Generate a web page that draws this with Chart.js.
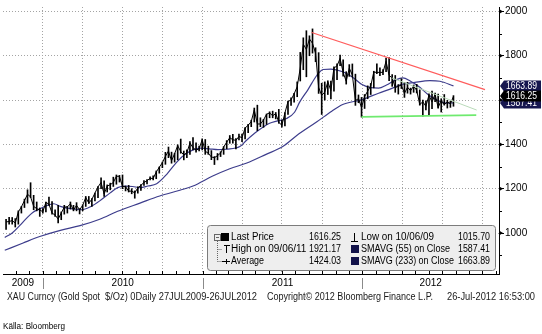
<!DOCTYPE html>
<html>
<head>
<meta charset="utf-8">
<title>XAU Curncy</title>
<script src="https://cdn.jsdelivr.net/npm/chart.js@4.4.1/dist/chart.umd.min.js"></script>
<style>
  html, body { margin: 0; padding: 0; background: #fff; }
  canvas { display: block; }
</style>
</head>
<body>
<canvas id="chart" width="542" height="334"></canvas>
<script>
// days are counted from 1 Jan 2010 (a Friday), one bar per trading week
const firstWeekDay = -84;

const weeklyHigh = [
  1062, 1071, 1070, 1065, 1100, 1120, 1153, 1195, 1227, 1170, 1140, 1113, 1110,
  1140, 1162, 1142, 1105, 1125, 1095, 1125, 1120, 1140, 1125, 1137, 1110, 1127, 1165, 1165, 1155, 1180, 1210, 1249, 1235,
  1217, 1225, 1252, 1262, 1260, 1262, 1212, 1215, 1200, 1190, 1208, 1218, 1237, 1241, 1253, 1258, 1280, 1298, 1320, 1364,
  1388, 1365, 1360, 1398, 1424, 1370, 1375, 1413, 1431, 1407, 1392, 1425,
  1422, 1392, 1372, 1345, 1359, 1367, 1390, 1417, 1440, 1445, 1426, 1447, 1447, 1476, 1490, 1509, 1564, 1577, 1520, 1513,
  1537, 1547, 1550, 1544, 1558, 1510, 1543, 1595, 1610, 1630, 1682, 1815, 1881, 1913, 1890, 1921.17, 1836, 1814, 1676, 1682,
  1687, 1686, 1750, 1764, 1803, 1782, 1728, 1760, 1763, 1717, 1623, 1612,
  1625, 1664, 1675, 1730, 1764, 1745, 1738, 1790, 1792, 1715, 1711, 1670, 1696, 1680, 1680, 1654, 1668, 1671, 1646, 1600,
  1596, 1628, 1640, 1632, 1627, 1606, 1625, 1599, 1595, 1620
];
const weeklyLow = [
  1015.70, 1040, 1040, 1027, 1040, 1090, 1115, 1135, 1160, 1105, 1100, 1075, 1090,
  1095, 1125, 1085, 1075, 1045, 1060, 1085, 1090, 1108, 1100, 1100, 1086, 1100, 1120, 1133, 1120, 1145, 1160, 1200, 1165,
  1185, 1195, 1210, 1220, 1230, 1200, 1190, 1185, 1177, 1157, 1180, 1192, 1215, 1222, 1240, 1240, 1245, 1270, 1295, 1310,
  1340, 1315, 1320, 1330, 1360, 1330, 1340, 1355, 1375, 1365, 1370, 1375,
  1355, 1355, 1331, 1309, 1330, 1345, 1355, 1380, 1405, 1405, 1380, 1420, 1412, 1425, 1453, 1480, 1501, 1462, 1480, 1477,
  1490, 1520, 1520, 1515, 1495, 1478, 1483, 1535, 1576, 1590, 1615, 1686, 1737, 1705, 1800, 1812, 1773, 1630, 1535, 1600,
  1625, 1605, 1640, 1692, 1755, 1708, 1672, 1707, 1705, 1576, 1588, 1523,
  1562, 1606, 1625, 1655, 1719, 1710, 1715, 1728, 1688, 1662, 1635, 1627, 1652, 1612, 1631, 1627, 1635, 1632, 1577, 1527,
  1555, 1532, 1561, 1593, 1563, 1546, 1577, 1564, 1567, 1572
];
const weeklyClose = [
  1050, 1052, 1056, 1045, 1095, 1118, 1146, 1175, 1163, 1120, 1110, 1104, 1096,
  1138, 1130, 1090, 1081, 1063, 1090, 1117, 1118, 1132, 1104, 1125, 1105, 1125, 1160, 1135, 1152, 1180, 1208, 1228, 1176,
  1212, 1218, 1228, 1256, 1256, 1210, 1209, 1189, 1189, 1181, 1204, 1215, 1228, 1236, 1247, 1246, 1275, 1297, 1317, 1346,
  1370, 1326, 1358, 1394, 1368, 1352, 1362, 1406, 1385, 1374, 1380, 1421,
  1369, 1360, 1343, 1340, 1349, 1361, 1388, 1410, 1430, 1421, 1418, 1436, 1430, 1474, 1486, 1503, 1556, 1492, 1492, 1510,
  1536, 1542, 1529, 1539, 1500, 1486, 1542, 1593, 1601, 1628, 1660, 1744, 1852, 1828, 1876, 1856, 1811, 1657, 1621, 1636,
  1682, 1643, 1745, 1754, 1788, 1724, 1685, 1744, 1713, 1598, 1606, 1566,
  1616, 1640, 1664, 1726, 1725, 1725, 1725, 1775, 1711, 1700, 1656, 1662, 1668, 1630, 1658, 1642, 1663, 1644, 1580, 1592,
  1572, 1622, 1591, 1627, 1566, 1599, 1579, 1592, 1583, 1616.25
];

const sma55Days = [-87, -70, -53, -38, -23, -7, 10, 25, 40, 55, 75, 89, 110, 130, 153, 171, 187, 205, 222, 240,
  260, 283, 306, 325, 343, 359, 380, 400, 420, 450, 466, 489, 518, 534, 557, 575, 587, 605, 626, 640,
  658, 685, 710, 729, 750, 767, 785, 805, 822, 840, 861, 880, 900, 923, 938];
const sma55 = [980, 1000, 1033, 1065, 1093, 1109, 1125, 1132, 1120, 1112, 1108, 1105, 1120, 1145, 1180, 1205, 1212, 1210, 1205, 1212,
  1222, 1265, 1320, 1355, 1375, 1383, 1380, 1376, 1378, 1390, 1420, 1458, 1495, 1505, 1517, 1545, 1592, 1645, 1712, 1738,
  1740, 1728, 1700, 1670, 1656, 1654, 1668, 1690, 1700, 1685, 1658, 1625, 1600, 1586, 1587.41];

const sma233Days = [-87, -45, -7, 40, 85, 130, 171, 222, 267, 313, 343, 388, 427, 466, 510, 548, 580, 626, 660, 685,
  729, 767, 800, 815, 850, 884, 907, 938];
const sma233 = [922, 955, 984, 1012, 1033, 1062, 1098, 1135, 1167, 1193, 1212, 1257, 1290, 1316, 1355, 1390, 1440, 1502, 1550, 1580,
  1602, 1631, 1655, 1668, 1680, 1688, 1685, 1663.89];

// hand-drawn trend lines
const resistanceDays = [614, 1010];
const resistance = [1905, 1647];
const supportDays = [728, 990];
const support = [1524, 1532];
const channelDays = [797, 991];
const channel = [1700, 1555];

const quarterDays = [0, 90, 181, 273, 365, 455, 546, 638, 730, 821, 912, 1004];
const monthDays = [-92, -61, -31, 0, 31, 59, 90, 120, 151, 181, 212, 243, 273, 304, 334,
  365, 396, 424, 455, 485, 516, 546, 577, 608, 638, 669, 699,
  730, 761, 790, 821, 851, 882, 912, 943, 974, 1004, 1035];
const yearLabels = ['2009', '2010', '2011', '2012'];
const yearStartDays = [-365, 0, 365, 730, 1096];
const priceTicks = [1000, 1200, 1400, 1600, 1800, 2000];
const minorPriceTicks = [900, 1100, 1300, 1500, 1700, 1900];

const highDate = '09/06/11';
const lowDate = '10/06/09';
const averagePrice = 1424.03;

const FONT = '"Liberation Sans", Arial, sans-serif';

const weekDays = weeklyClose.map((_, i) => firstWeekDay + 7 * i);
const toPoints = (days, vals) => days.map((d, i) => ({ x: d, y: vals[i] }));

const lastClose = weeklyClose[weeklyClose.length - 1];
const highest = Math.max(...weeklyHigh);
const lowest = Math.min(...weeklyLow);
const sma55Last = sma55[sma55.length - 1];
const sma233Last = sma233[sma233.length - 1];

const overlay = {
  id: 'overlay',
  afterDraw(chart) {
    const { ctx, chartArea: area, scales: { x, y } } = chart;
    ctx.save();
    ctx.strokeStyle = '#000';
    ctx.fillStyle = '#000';
    ctx.lineWidth = 1;

    // month ticks along the time axis
    monthDays.forEach(d => {
      if (d < x.min || d > x.max) return;
      const px = Math.round(x.getPixelForValue(d)) + 0.5;
      ctx.beginPath();
      ctx.moveTo(px, area.bottom);
      ctx.lineTo(px, area.bottom - 3);
      ctx.stroke();
    });

    // minor price ticks, arrow heads on labelled ones
    minorPriceTicks.forEach(v => {
      const py = Math.round(y.getPixelForValue(v)) + 0.5;
      ctx.beginPath();
      ctx.moveTo(area.right, py);
      ctx.lineTo(area.right + 3, py);
      ctx.stroke();
    });
    priceTicks.forEach(v => {
      const py = y.getPixelForValue(v);
      ctx.beginPath();
      ctx.moveTo(area.right, py - 2.5);
      ctx.lineTo(area.right + 4, py);
      ctx.lineTo(area.right, py + 2.5);
      ctx.closePath();
      ctx.fill();
    });

    // year labels and separators
    ctx.font = '10px ' + FONT;
    ctx.textAlign = 'center';
    ctx.textBaseline = 'middle';
    yearLabels.forEach((label, i) => {
      const from = Math.max(yearStartDays[i], x.min);
      const to = Math.min(yearStartDays[i + 1], x.max);
      ctx.fillText(label, x.getPixelForValue((from + to) / 2), 283);
    });
    ctx.strokeStyle = '#8a8a8a';
    yearStartDays.forEach(d => {
      if (d <= x.min || d >= x.max) return;
      const px = Math.round(x.getPixelForValue(d)) + 0.5;
      ctx.beginPath();
      ctx.moveTo(px, 278);
      ctx.lineTo(px, 289);
      ctx.stroke();
    });

    // info box
    const bx = 207.5, by = 225.5, bw = 288, bh = 45;
    ctx.beginPath();
    ctx.roundRect(bx, by, bw, bh, 3);
    ctx.fillStyle = '#eeeeee';
    ctx.fill();
    ctx.strokeStyle = '#7c7c7c';
    ctx.stroke();

    const rows = [237.5, 249.5, 261];
    // tree connector
    ctx.strokeStyle = '#666';
    ctx.setLineDash([1, 1]);
    ctx.beginPath();
    ctx.moveTo(217.5, 241); ctx.lineTo(217.5, 261.5);
    ctx.moveTo(217.5, 249.5); ctx.lineTo(222, 249.5);
    ctx.moveTo(217.5, 261.5); ctx.lineTo(222, 261.5);
    ctx.stroke();
    ctx.setLineDash([]);
    ctx.strokeRect(214.5, 234.5, 6, 6);
    ctx.beginPath(); ctx.moveTo(216, 237.5); ctx.lineTo(219, 237.5); ctx.stroke();

    ctx.fillStyle = '#000';
    ctx.fillRect(221, 233, 8, 8);
    ctx.strokeStyle = '#000';
    ctx.beginPath();
    // high marker
    ctx.moveTo(224, 245.5); ctx.lineTo(230, 245.5);
    ctx.moveTo(226.5, 245.5); ctx.lineTo(226.5, 253);
    // average marker
    ctx.moveTo(222, 261.5); ctx.lineTo(230, 261.5);
    ctx.moveTo(226.5, 259); ctx.lineTo(226.5, 264);
    // low marker
    ctx.moveTo(354.5, 233); ctx.lineTo(354.5, 241);
    ctx.moveTo(351, 241.5); ctx.lineTo(358, 241.5);
    ctx.stroke();
    ctx.fillStyle = '#12124a';
    ctx.fillRect(351, 245, 8, 8);
    ctx.fillRect(351, 257, 8, 8);

    ctx.fillStyle = '#000';
    ctx.font = '10px ' + FONT;
    ctx.textAlign = 'left';
    ctx.fillText('Last Price', 231, rows[0], 43);
    ctx.fillText('High on ' + highDate, 231, rows[1], 76);
    ctx.fillText('Average', 231, rows[2], 33);
    ctx.fillText(lastClose.toFixed(2), 309, rows[0], 32);
    ctx.fillText(highest.toFixed(2), 309, rows[1], 32);
    ctx.fillText(averagePrice.toFixed(2), 309, rows[2], 32);
    ctx.fillText('Low on ' + lowDate, 361, rows[0], 73);
    ctx.fillText('SMAVG (55) on Close', 361, rows[1], 89);
    ctx.fillText('SMAVG (233) on Close', 361, rows[2], 93);
    ctx.textAlign = 'right';
    ctx.fillText(lowest.toFixed(2), 490, rows[0], 32);
    ctx.fillText(sma55Last.toFixed(2), 490, rows[1], 32);
    ctx.fillText(sma233Last.toFixed(2), 490, rows[2], 32);

    // value tags on the price axis
    const tags = [[sma55Last, '#16164f'], [sma233Last, '#16164f'], [lastClose, '#000']];
    ctx.textAlign = 'left';
    tags.forEach(([v, colour]) => {
      const py = Math.round(y.getPixelForValue(v));
      ctx.beginPath();
      ctx.moveTo(area.right + 1, py);
      ctx.lineTo(area.right + 5, py - 5.5);
      ctx.lineTo(541, py - 5.5);
      ctx.lineTo(541, py + 5.5);
      ctx.lineTo(area.right + 5, py + 5.5);
      ctx.closePath();
      ctx.fillStyle = colour;
      ctx.fill();
      ctx.fillStyle = '#fff';
      ctx.fillText(v.toFixed(2), area.right + 7, py + 0.5, 31);
    });

    // footer
    ctx.fillStyle = '#1a1a1a';
    const footer = [
      ['XAU Curncy (Gold Spot', 7, 93],
      ['$/Oz) 0Daily 27JUL2009-26JUL2012', 105, 152],
      ['Copyright\u00a9 2012 Bloomberg Finance L.P.', 267, 166],
      ['26-Jul-2012 16:53:00', 447, 88]
    ];
    footer.forEach(([text, fx, fw]) => ctx.fillText(text, fx, 297, fw));
    ctx.font = '8.5px ' + FONT;
    ctx.fillStyle = '#000';
    ctx.fillText('Källa: Bloomberg', 3, 327, 62);
    ctx.restore();
  }
};

const lineStyle = { pointRadius: 0, borderWidth: 1, fill: false };

new Chart(document.getElementById('chart'), {
  type: 'bar',
  data: {
    datasets: [
      { type: 'line', data: toPoints(resistanceDays, resistance), borderColor: '#ff5c5c', ...lineStyle, borderWidth: 1.2, order: 0 },
      { type: 'line', data: toPoints(supportDays, support), borderColor: '#6fea6f', ...lineStyle, borderWidth: 1.6, order: 0 },
      { type: 'line', data: toPoints(channelDays, channel), borderColor: '#b9dab9', ...lineStyle, order: 0 },
      { type: 'line', data: toPoints(weekDays, weeklyClose), borderColor: '#000', ...lineStyle, order: 1 },
      { data: weekDays.map((d, i) => ({ x: d, y: [weeklyLow[i], weeklyHigh[i]] })), backgroundColor: '#000', barThickness: 1, borderWidth: 0, order: 2 },
      { type: 'line', data: toPoints(sma55Days, sma55), borderColor: '#3d3d8c', ...lineStyle, borderWidth: 1.2, cubicInterpolationMode: 'monotone', order: 3 },
      { type: 'line', data: toPoints(sma233Days, sma233), borderColor: '#3d3d8c', ...lineStyle, borderWidth: 1.2, cubicInterpolationMode: 'monotone', order: 3 }
    ]
  },
  options: {
    responsive: false,
    animation: false,
    layout: { padding: { top: 4, left: 3, right: 0, bottom: 0 } },
    plugins: { legend: { display: false }, tooltip: { enabled: false } },
    scales: {
      x: {
        type: 'linear',
        min: -91,
        max: 1042,
        offset: false,
        afterBuildTicks: s => { s.ticks = quarterDays.map(v => ({ value: v })); },
        afterFit: s => { s.height = 60; },
        ticks: { display: false },
        grid: { offset: false, color: '#a4a4a4', drawTicks: false },
        border: { color: '#000', dash: [1, 2] }
      },
      y: {
        position: 'right',
        min: 815,
        max: 2020,
        afterBuildTicks: s => { s.ticks = priceTicks.map(v => ({ value: v })); },
        afterFit: s => { s.width = 43; },
        ticks: { color: '#000', font: { family: 'Liberation Sans', size: 10 }, padding: 1, callback: v => String(v) },
        grid: { color: '#a4a4a4', tickColor: '#000', tickLength: 5 },
        border: { color: '#000', dash: [1, 2] }
      }
    }
  },
  plugins: [overlay]
});
</script>
</body>
</html>
